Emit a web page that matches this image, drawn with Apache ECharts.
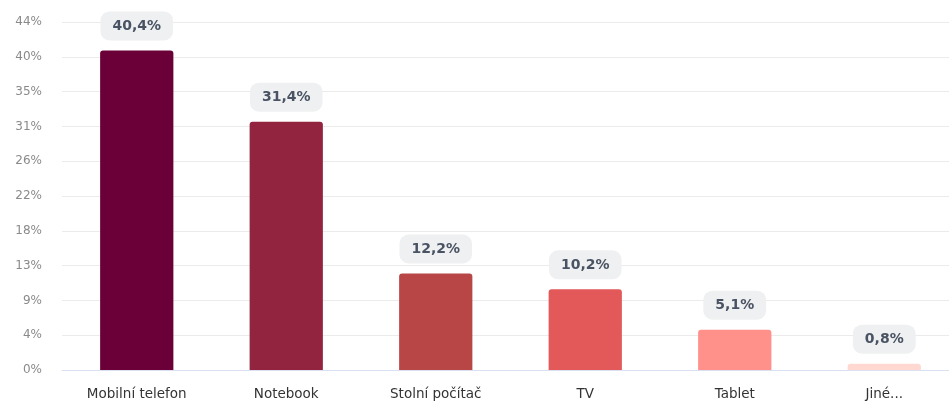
<!DOCTYPE html>
<html>
<head>
<meta charset="utf-8">
<script src="https://cdn.jsdelivr.net/npm/echarts@6/dist/echarts.min.js"></script>
<style>
	html, body { margin: 0; padding: 0; background: #fff; }
	#chart { width: 949px; height: 401px; }
</style>
</head>
<body>
<div id="chart"></div>
<script>
var categories = ['Mobilní telefon', 'Notebook', 'Stolní počítač', 'TV', 'Tablet', 'Jiné...'];
var values = [40.4, 31.4, 12.2, 10.2, 5.1, 0.8];
var barColors = ['#6b0039', '#93243f', '#b84646', '#e35858', '#ff918a', '#ffd8d2'];

var myChart = echarts.init(document.getElementById('chart'));
var option = {
	animation: false,
	grid: {
		left: 62,
		right: -10,
		top: 22,
		bottom: 31,
		outerBoundsMode: 'none'
	},
	xAxis: {
		type: 'category',
		data: categories,
		axisTick: { show: false },
		axisLine: { lineStyle: { color: '#d9e1f0' } },
		axisLabel: {
			color: '#333',
			fontSize: 13.5,
			fontFamily: 'DejaVu Sans',
			margin: 17
		}
	},
	yAxis: {
		type: 'value',
		min: 0,
		max: 44,
		interval: 4.4,
		splitLine: { lineStyle: { color: '#ebebeb' } },
		axisLabel: {
			color: '#8a8a8a',
			fontSize: 12,
			fontFamily: 'DejaVu Sans',
			margin: 20,
			formatter: function (v) {
				return Math.round(v) + '%';
			}
		}
	},
	series: [{
		type: 'bar',
		barWidth: '49%',
		data: values.map(function (v, i) {
			return { value: v, itemStyle: { color: barColors[i] } };
		}),
		itemStyle: { borderRadius: [3, 3, 0, 0] },
		label: {
			show: true,
			position: 'top',
			distance: 10,
			formatter: function (p) {
				return String(p.value).replace('.', ',') + '%';
			},
			color: '#4a5363',
			fontSize: 14,
			fontWeight: 'bold',
			fontFamily: 'DejaVu Sans',
			backgroundColor: '#eff0f1',
			borderRadius: 9,
			padding: [8, 12, 7, 12]
		}
	}]
};
myChart.setOption(option);
</script>
</body>
</html>
